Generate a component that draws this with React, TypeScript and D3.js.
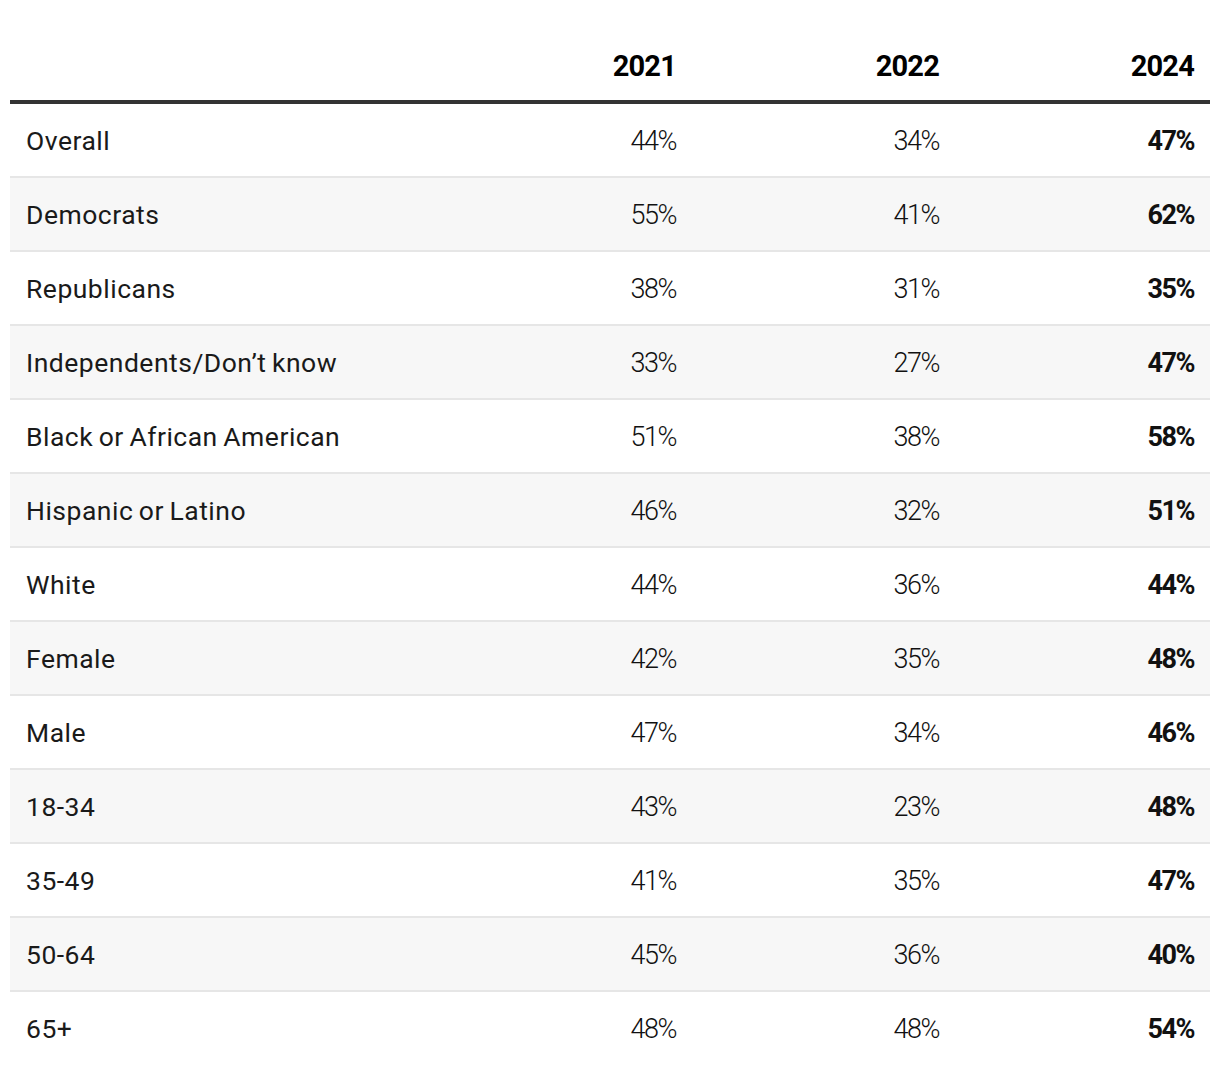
import React from "react";
import * as d3 from "d3";

const categories = [
  "Overall",
  "Democrats",
  "Republicans",
  "Independents/Don’t know",
  "Black or African American",
  "Hispanic or Latino",
  "White",
  "Female",
  "Male",
  "18-34",
  "35-49",
  "50-64",
  "65+",
];
const years = ["2021", "2022", "2024"];
const v2021 = [44, 55, 38, 33, 51, 46, 44, 42, 47, 43, 41, 45, 48];
const v2022 = [34, 41, 31, 27, 38, 32, 36, 35, 34, 23, 35, 36, 48];
const v2024 = [47, 62, 35, 47, 58, 51, 44, 48, 46, 48, 47, 40, 54];
const series = [v2021, v2022, v2024];

const W = 1220;
const H = 1074;
const left = 10;
const right = 1210;
const headerY = 102;
const font = "Roboto, 'Open Sans', sans-serif";

export default function App() {
  const y = d3
    .scaleBand<string>()
    .domain(categories)
    .range([headerY + 2, headerY + 2 + 74 * categories.length])
    .paddingInner(0);
  const colRight = d3.scaleOrdinal<string, number>().domain(years).range([692, 955, 1210]);
  const fmt = (v: number) => `${v}%`;
  return (
    <svg
      width={W}
      height={H}
      style={{ position: "absolute", left: 0, top: 0, display: "block", background: "#fff" }}
      fontFamily={font}
    >
      {categories.map((c, i) => {
        const top = y(c)!;
        const h = y.bandwidth();
        const base = top + h / 2 + 9;
        return (
          <g key={c}>
            {i % 2 === 1 && <rect x={left} y={top} width={right - left} height={h - 2} fill="#f7f7f7" />}
            {i < categories.length - 1 && (
              <rect x={left} y={top + h - 2} width={right - left} height={2} fill="#e6e6e6" />
            )}
            <text x={26} y={base} fontSize={26.5} fill="#1a1a1a" letterSpacing={0.5} wordSpacing={-1.5}>
              {c}
            </text>
            {years.map((yr, j) => (
              <text
                key={yr}
                x={colRight(yr) - 16}
                y={base}
                textAnchor="end"
                fontSize={27}
                fontWeight={j === 2 ? 700 : 300}
                fill="#111"
                letterSpacing={-1.5}
              >
                {fmt(series[j][i])}
              </text>
            ))}
          </g>
        );
      })}
      {years.map((yr) => (
        <text
          key={yr}
          x={colRight(yr) - 16}
          y={76}
          textAnchor="end"
          fontSize={29}
          fontWeight={700}
          fill="#000"
          letterSpacing={-0.8}
        >
          {yr}
        </text>
      ))}
      <rect x={left} y={headerY - 2} width={right - left} height={4} fill="#333" />
    </svg>
  );
}
